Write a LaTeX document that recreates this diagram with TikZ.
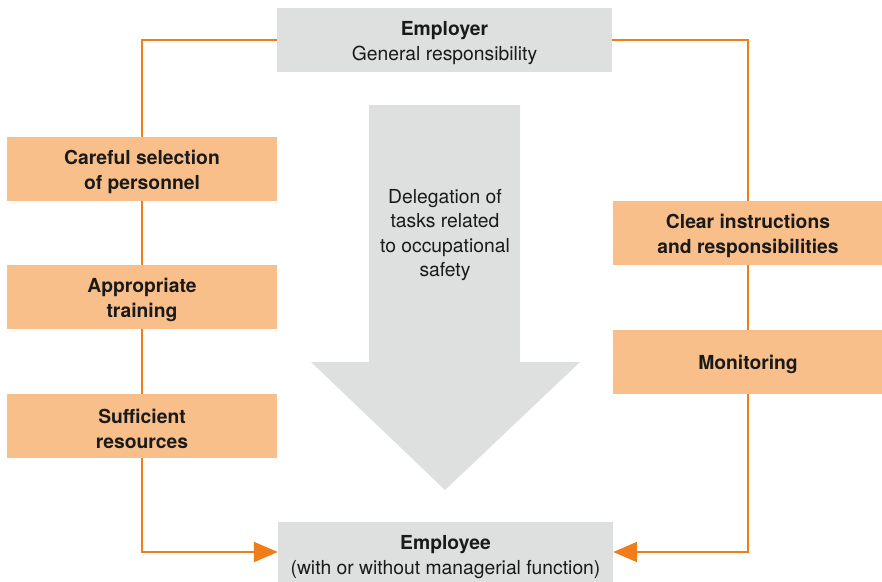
\documentclass[tikz,border=0pt]{standalone}
\usepackage{fontspec}
\setmainfont{TeX Gyre Heros}
\usetikzlibrary{arrows.meta}
\definecolor{boxgray}{HTML}{DEDFDF}
\definecolor{boxorange}{HTML}{F8BF8A}
\definecolor{lineorange}{HTML}{EE7D1A}
\definecolor{txt}{HTML}{1A1A1A}
\newcommand\dropstrut{\rule{0pt}{20pt}}
\tikzset{
  basefont/.style={font=\fontsize{19.3}{24.5}\selectfont},
  graybox/.style={fill=boxgray, draw=none, minimum width=335pt, minimum height=64pt, align=center, inner sep=0pt, text=txt, basefont},
  orangebox/.style={fill=boxorange, draw=none, minimum width=270pt, minimum height=64pt, align=center, inner sep=0pt, font=\fontsize{19.3}{24.5}\selectfont\bfseries, text=txt},
  conn/.style={draw=lineorange, line width=2.2pt},
  arr/.style={conn, -{Triangle[length=24pt,width=20pt]}},
}
\begin{document}
\begin{tikzpicture}[x=1pt,y=-1pt]
\useasboundingbox (0,0) rectangle (882,581);
% big arrow
\fill[boxgray] (369,105) -- (520,105) -- (520,362) -- (580,362) -- (445,490) -- (311,362) -- (369,362) -- cycle;
\node[align=center, text=txt, basefont] (deleg) at (445,235) {Delegation of\\tasks related\\to occupational\\safety};
% boxes
\node[graybox] (employer) at (444.5,40) {\dropstrut\textbf{Employer}\\General responsibility};
\node[graybox] (employee) at (445.5,554) {\dropstrut\textbf{Employee}\\(with or without managerial function)};
\node[orangebox] (l1) at (142,169) {\dropstrut Careful selection\\of personnel};
\node[orangebox] (l2) at (142,297) {\dropstrut Appropriate\\training};
\node[orangebox] (l3) at (142,426) {\dropstrut Sufficient\\resources};
\node[orangebox] (r1) at (748,233) {\dropstrut Clear instructions\\and responsibilities};
\node[orangebox] (r2) at (748,362) {\dropstrut Monitoring};
% connectors
\coordinate (tl) at (142,40);
\coordinate (tr) at (748,40);
\coordinate (bl) at (142,552);
\coordinate (br) at (748,552);
\draw[conn] (employer.west |- tl) -- (tl) -- (l1.north);
\draw[conn] (l1.south) -- (l2.north);
\draw[conn] (l2.south) -- (l3.north);
\draw[arr] (l3.south) -- (bl) -- (employee.west |- bl);
\draw[conn] (employer.east |- tr) -- (tr) -- (r1.north);
\draw[conn] (r1.south) -- (r2.north);
\draw[arr] (r2.south) -- (br) -- (employee.east |- br);
\end{tikzpicture}
\end{document}
